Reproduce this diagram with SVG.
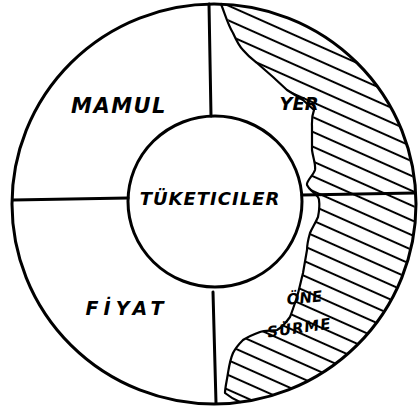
<svg xmlns="http://www.w3.org/2000/svg" width="418" height="411" viewBox="0 0 418 411">
<style>
.ln{fill:none;stroke:#000;stroke-width:3;stroke-linecap:round;stroke-linejoin:round}
.thin{fill:none;stroke:#000;stroke-width:2.2;stroke-linecap:round;stroke-linejoin:round}
.t{font-family:"DejaVu Sans","Liberation Sans",sans-serif;font-style:oblique;font-weight:bold;fill:#000;text-anchor:middle}
</style>
<defs>
<pattern id="hatch" patternUnits="userSpaceOnUse" width="16" height="13.5" patternTransform="rotate(24)">
<line x1="0" y1="6.75" x2="16" y2="6.75" stroke="#000" stroke-width="2"/>
</pattern>
<clipPath id="hclip">
<path d="M221,4 L227,17 L233,33 L243,50 L257,63 L273,77 L287,90 L303,100 L314,110 L312,127 L312,150 L315,170 L307,185 L313,192 L319,200 L318,217 L310,233 L307,250 L303,273 L297,297 L290,317 L277,330 L260,332 L243,340 L233,353 L228,373 L225,393 L240,402 A202,200 0 0 0 221,4 Z"/>
</clipPath>
</defs>
<g id="hatched-area">
<rect x="200" y="0" width="218" height="411" fill="url(#hatch)" clip-path="url(#hclip)"/>
<path class="thin" d="M221,4 C225,14 228,25 233,33 C237,42 240,47 243,50 C249,57 252,59 257,63 L273,77 L287,90 L303,100 L314,110 C311,118 312,122 312,127 L312,150 C313,158 316,164 315,170 C313,176 306,181 307,185 C309,189 311,190 313,192 C316,195 319,197 319,200 C320,207 319,212 318,217 C315,224 312,228 310,233 C308,240 307,245 307,250 L303,273 C300,285 299,290 297,297 C294,306 292,312 290,317 C285,324 281,328 277,330 C270,331 265,330 260,332 C252,335 247,337 243,340 C238,345 235,349 233,353 C230,360 229,367 228,373 C227,380 225,388 225,393 C230,397 235,400 240,402"/>
</g>
<g id="ring">
<ellipse class="ln" cx="214" cy="204" rx="202" ry="200"/>
</g>
<g id="connectors">
<line class="ln" x1="209" y1="4" x2="211" y2="116"/>
<line class="ln" x1="213" y1="292" x2="216" y2="403"/>
<line class="ln" x1="13" y1="200" x2="128" y2="198"/>
<line class="ln" x1="302" y1="195" x2="415" y2="193"/>
</g>
<g id="tuketiciler">
<ellipse class="ln" cx="215" cy="201.5" rx="87" ry="85.5"/>
<text class="t" x="210" y="205" font-size="18" letter-spacing="1">TÜKETICILER</text>
</g>
<g id="mamul">
<text class="t" x="119" y="113" font-size="21" letter-spacing="1.5">MAMUL</text>
</g>
<g id="yer">
<text class="t" x="299" y="110" font-size="18" letter-spacing="0">YER</text>
</g>
<g id="fiyat">
<text class="t" x="127" y="315" font-size="19" letter-spacing="5">FİYAT</text>
</g>
<g id="one-surme">
<text class="t" x="305" y="303" font-size="15" transform="rotate(-6 305 303)">ÖNE</text>
<text class="t" x="300" y="333" font-size="15" letter-spacing="1" transform="rotate(-8 300 333)">SÜRME</text>
</g>
</svg>
